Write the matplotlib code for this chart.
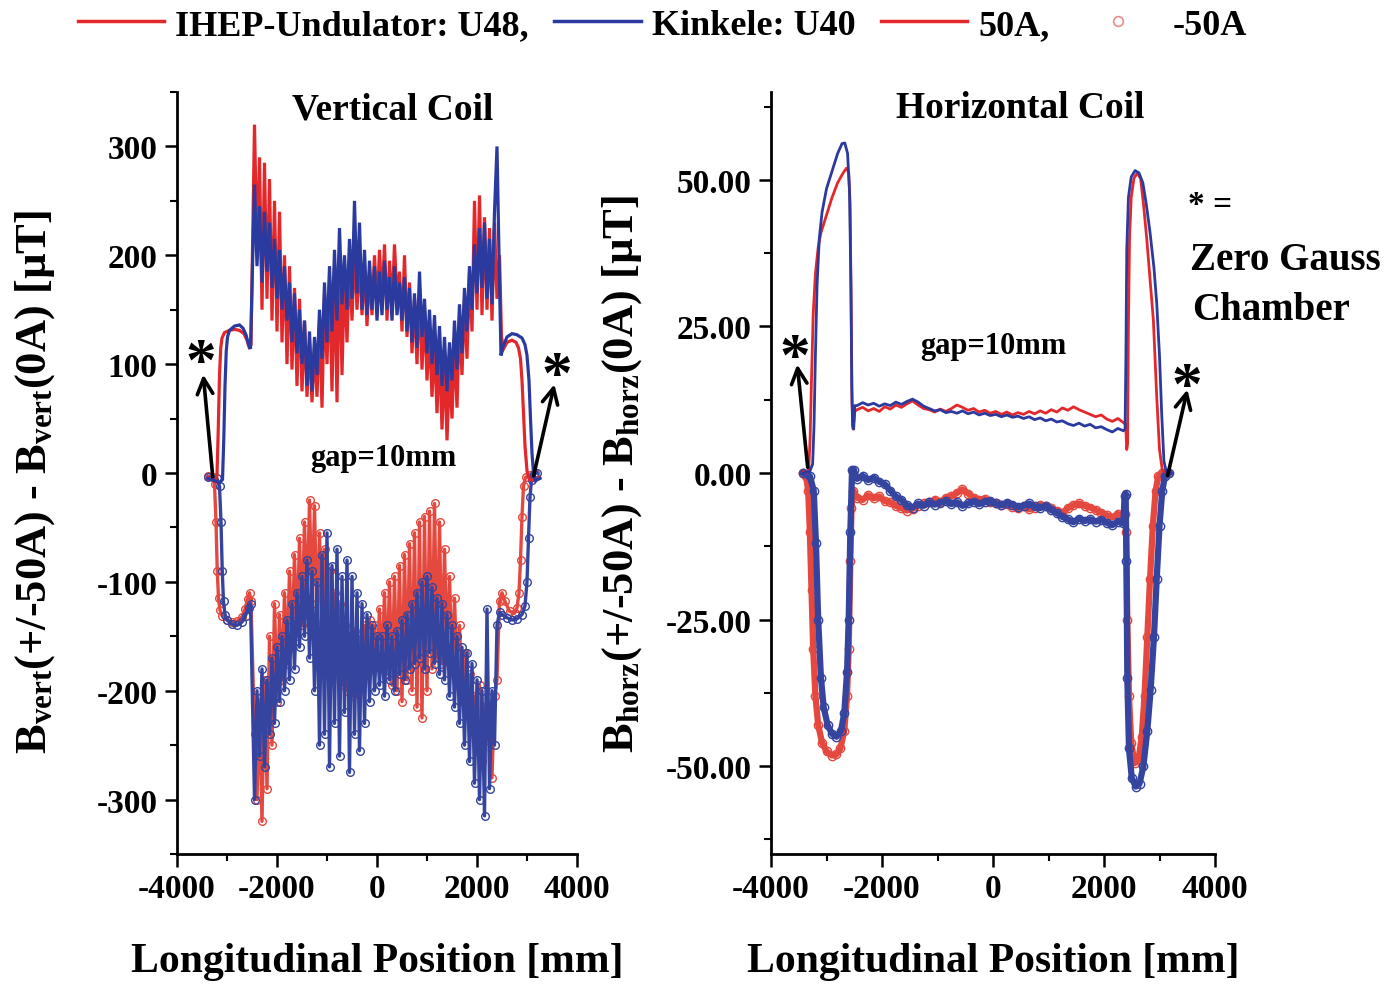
import numpy as np
import matplotlib
matplotlib.use('Agg')
import matplotlib.pyplot as plt
from matplotlib.lines import Line2D
from matplotlib.ticker import MultipleLocator, FormatStrFormatter

plt.rcParams['font.family'] = ['Liberation Serif', 'DejaVu Serif']
plt.rcParams['font.weight'] = 'bold'
plt.rcParams['axes.labelweight'] = 'bold'
plt.rcParams['axes.unicode_minus'] = False
plt.rcParams['mathtext.fontset'] = 'custom'
plt.rcParams['mathtext.rm'] = 'Liberation Serif:bold'
plt.rcParams['mathtext.it'] = 'Liberation Serif:bold'
plt.rcParams['mathtext.bf'] = 'Liberation Serif:bold'

RED = '#e3282b'
BLUE = '#2b3a9e'
RED_M = '#e4483e'
BLUE_M = '#34449f'

# ---------------- Vertical coil data ----------------
# common sampling positions of the noisy central region [mm]
V_NOISE_X = [-2450, -2400, -2350, -2300, -2250, -2200, -2150, -2100, -2050, -2000,
             -1950, -1900, -1850, -1800, -1750, -1700, -1650, -1600, -1550, -1500,
             -1450, -1400, -1350, -1300, -1250, -1200, -1150, -1100, -1050, -1000,
             -950, -900, -850, -800, -750, -700, -650, -600, -550, -500,
             -450, -400, -350, -300, -250, -200, -150, -100, -50, 0,
             50, 100, 150, 200, 250, 300, 350, 400, 450, 500,
             550, 600, 650, 700, 750, 800, 850, 900, 950, 1000,
             1050, 1100, 1150, 1200, 1250, 1300, 1350, 1400, 1450, 1500,
             1550, 1600, 1650, 1700, 1750, 1800, 1850, 1900, 1950, 2000,
             2050, 2100, 2150, 2200, 2250, 2300, 2350, 2400]

# +50A, IHEP (red)
V_UP_RED_LX = [-3380, -3300, -3230, -3200, -3175, -3150, -3125, -3100, -3050, -2950, -2850, -2750, -2660, -2600, -2560, -2520]
V_UP_RED_LY = [-4, -6, -8, -2, 40, 90, 115, 124, 129, 131, 132, 131, 128, 122, 116, 118]
V_UP_RED_N = [320, 200, 290, 150, 285, 160, 270, 140, 250, 130,
              240, 120, 200, 100, 190, 95, 170, 80, 160, 75,
              140, 70, 120, 65, 115, 70, 140, 60, 165, 100,
              180, 75, 190, 65, 200, 90, 185, 120, 195, 140,
              210, 150, 200, 145, 190, 135, 185, 145, 200, 150,
              205, 155, 210, 140, 195, 150, 210, 160, 185, 130,
              200, 125, 175, 110, 160, 100, 170, 95, 150, 85,
              130, 70, 120, 55, 115, 40, 105, 30, 95, 50,
              120, 60, 145, 90, 160, 105, 185, 130, 250, 150,
              255, 145, 235, 150, 225, 140, 230, 160]
V_UP_RED_RX = [2450, 2490, 2530, 2600, 2700, 2780, 2830, 2870, 2900, 2930, 2960, 3000, 3050, 3150, 3250]
V_UP_RED_RY = [200, 125, 114, 120, 122, 120, 115, 105, 85, 55, 25, 2, -6, -7, -4]

# +50A, Kinkele (blue)
V_UP_BLUE_LX = [-3380, -3250, -3150, -3090, -3065, -3040, -3015, -2990, -2950, -2850, -2750, -2680, -2620, -2570, -2530]
V_UP_BLUE_LY = [-5, -7, -9, -6, 30, 80, 112, 125, 131, 135, 136, 133, 127, 118, 114]
V_UP_BLUE_N = [265, 190, 245, 175, 240, 185, 230, 170, 215, 160,
               205, 150, 190, 140, 175, 120, 165, 110, 150, 100,
               140, 80, 130, 75, 125, 90, 150, 105, 175, 120,
               190, 130, 205, 140, 225, 155, 200, 150, 215, 160,
               250, 165, 230, 150, 205, 145, 195, 150, 190, 140,
               185, 145, 195, 150, 180, 140, 190, 145, 175, 140,
               180, 130, 170, 120, 165, 115, 185, 125, 160, 110,
               150, 100, 145, 90, 135, 80, 125, 75, 120, 85,
               140, 95, 155, 110, 170, 130, 190, 150, 210, 165,
               225, 170, 230, 160, 215, 155, 240, 300]
V_UP_BLUE_RX = [2450, 2480, 2520, 2600, 2700, 2800, 2900, 2960, 3000, 3040, 3070, 3100, 3130, 3170, 3260]
V_UP_BLUE_RY = [175, 108, 116, 125, 128, 127, 124, 118, 108, 85, 50, 18, 0, -7, -5]

# -50A, IHEP (red circles)
V_LO_RED_LX = [-3380, -3290, -3250, -3220, -3195, -3170, -3140, -3100, -3000, -2900, -2800, -2700, -2640, -2590, -2550, -2520]
V_LO_RED_LY = [-3, -4, -10, -45, -90, -115, -126, -131, -135, -137, -136, -132, -125, -116, -110, -118]
V_LO_RED_N = [-240, -300, -210, -320, -190, -290, -150, -250, -120, -210,
              -130, -190, -110, -175, -90, -160, -75, -150, -60, -140,
              -45, -130, -25, -120, -30, -140, -55, -155, -70, -165,
              -90, -175, -110, -185, -120, -195, -140, -200, -150, -205,
              -145, -190, -150, -195, -140, -185, -135, -180, -140, -175,
              -125, -180, -110, -185, -100, -195, -95, -200, -85, -210,
              -75, -190, -65, -200, -55, -215, -45, -225, -40, -200,
              -35, -180, -28, -170, -45, -175, -70, -165, -95, -180,
              -115, -185, -140, -200, -165, -220, -185, -235, -205, -250,
              -195, -265, -215, -245, -230, -280, -205, -190]
V_LO_RED_RX = [2450, 2500, 2560, 2650, 2750, 2800, 2840, 2870, 2900, 2930, 2970, 3050, 3150]
V_LO_RED_RY = [-118, -110, -118, -127, -129, -124, -110, -80, -40, -12, -4, -2, 0]

# -50A, Kinkele (blue circles)
V_LO_BLUE_LX = [-3380, -3200, -3150, -3120, -3095, -3070, -3040, -3000, -2900, -2800, -2700, -2630, -2570, -2530]
V_LO_BLUE_LY = [-4, -5, -12, -45, -90, -118, -130, -135, -139, -140, -137, -131, -124, -120]
V_LO_BLUE_N = [-300, -200, -260, -180, -270, -190, -240, -170, -230, -160,
               -210, -150, -200, -135, -190, -120, -180, -110, -160, -95,
               -150, -80, -170, -90, -200, -100, -250, -75, -240, -55,
               -270, -85, -230, -70, -260, -95, -220, -80, -275, -95,
               -240, -110, -255, -120, -230, -130, -210, -140, -200, -150,
               -195, -150, -205, -140, -190, -150, -200, -145, -185, -135,
               -190, -130, -180, -120, -175, -110, -170, -100, -180, -95,
               -165, -105, -175, -115, -185, -120, -190, -130, -205, -140,
               -215, -150, -230, -160, -250, -165, -265, -175, -285, -190,
               -300, -200, -315, -125, -290, -200, -250, -140]
V_LO_BLUE_RX = [2450, 2500, 2600, 2700, 2800, 2900, 2960, 3000, 3030, 3060, 3090, 3130, 3200]
V_LO_BLUE_RY = [-128, -130, -133, -135, -134, -130, -122, -100, -60, -22, -6, -1, 0]

# ---------------- Horizontal coil data ----------------
H_FLAT_X = [-2450, -2350, -2250, -2150, -2050, -1950, -1850, -1750, -1650, -1550,
            -1450, -1350, -1250, -1150, -1050, -950, -850, -750, -650, -550,
            -450, -350, -250, -150, -50, 50, 150, 250, 350, 450,
            550, 650, 750, 850, 950, 1050, 1150, 1250, 1350, 1450,
            1550, 1650, 1750, 1850, 1950, 2050, 2150, 2250, 2350]

H_UP_RED_LX = [-3420, -3360, -3320, -3295, -3270, -3240, -3200, -3150, -3100, -3000, -2900, -2800, -2700, -2640, -2600, -2575, -2555, -2540, -2520, -2490]
H_UP_RED_LY = [0.2, 0.0, 0.6, 6, 16, 27, 34, 38.5, 41, 44, 47, 49.5, 51.2, 52, 51.3, 46, 28, 12, 7.5, 10.5]
H_UP_RED_N = [10.8, 11.2, 10.6, 11.0, 10.5, 11.3, 10.9, 11.6, 11.2, 11.8,
              12.3, 11.6, 11.0, 10.8, 10.4, 10.9, 10.5, 11.0, 11.6, 11.2,
              10.7, 11.0, 10.4, 10.7, 10.2, 10.5, 10.0, 10.4, 9.9, 10.3,
              10.0, 10.5, 10.1, 10.6, 10.2, 10.8, 10.4, 11.1, 10.7, 11.3,
              10.8, 10.4, 10.0, 9.6, 9.9, 9.2, 8.8, 9.3, 8.6]
H_UP_RED_RX = [2390, 2410, 2425, 2440, 2460, 2490, 2540, 2600, 2660, 2710, 2770, 2830, 2890, 2950, 3000, 3050, 3150]
H_UP_RED_RY = [8.3, 4.0, 5.0, 25, 40, 47, 50.3, 51.2, 50.2, 46, 40, 33, 26, 13, 4, 0.5, 0.0]

H_UP_BLUE_LX = [-3420, -3300, -3250, -3225, -3200, -3170, -3130, -3080, -3000, -2900, -2800, -2720, -2670, -2620, -2585, -2560, -2545, -2530, -2510, -2490]
H_UP_BLUE_LY = [0.0, 0.3, 1.5, 8, 20, 32, 40, 44.5, 48.5, 51.5, 54.5, 56.2, 56.3, 54.5, 48, 32, 15, 8, 7.5, 11.5]
H_UP_BLUE_N = [11.5, 12.0, 11.6, 11.9, 11.4, 11.8, 11.5, 12.1, 11.7, 12.2,
               12.6, 12.1, 11.4, 11.0, 10.6, 10.8, 10.3, 10.5, 10.2, 10.6,
               10.1, 10.4, 9.9, 10.2, 9.8, 10.0, 9.6, 9.9, 9.5, 9.7,
               9.3, 9.6, 9.1, 9.4, 8.9, 9.2, 8.7, 8.9, 8.4, 8.1,
               8.5, 8.0, 8.3, 7.7, 7.9, 7.4, 7.0, 7.6, 7.2]
H_UP_BLUE_RX = [2380, 2395, 2410, 2440, 2490, 2560, 2630, 2700, 2760, 2830, 2900, 2950, 3000, 3040, 3080, 3120, 3200]
H_UP_BLUE_RY = [7.5, 20, 38, 47, 50.5, 51.6, 51.2, 49.5, 46, 41, 35, 29, 20, 10, 2, 0.3, 0.0]

H_LO_RED_LX = [-3420, -3370, -3330, -3300, -3270, -3240, -3200, -3150, -3080, -3000, -2900, -2820, -2750, -2680, -2630, -2600, -2570, -2550, -2520]
H_LO_RED_LY = [0, -0.5, -3, -10, -20, -30, -38, -43, -46, -47.5, -48.2, -48, -47, -44, -38, -30, -15, -6, -3]
H_LO_RED_N = [-4.2, -4.6, -3.8, -4.3, -4.0, -4.8, -5.0, -5.6, -6.0, -6.4,
              -6.1, -5.6, -5.2, -5.0, -4.6, -4.9, -4.3, -4.0, -3.4, -2.8,
              -3.5, -4.2, -4.6, -4.4, -4.9, -5.1, -5.5, -5.3, -5.8, -6.0,
              -5.7, -6.2, -5.9, -5.4, -5.6, -6.0, -6.4, -6.8, -6.0, -5.5,
              -5.2, -5.6, -5.9, -6.3, -6.8, -7.2, -7.6, -7.0, -7.4]
H_LO_RED_RX = [2380, 2400, 2420, 2450, 2490, 2550, 2620, 2680, 2730, 2780, 2830, 2880, 2930, 2980, 3050, 3150]
H_LO_RED_RY = [-7, -10, -25, -38, -46, -49.5, -49, -45, -38, -28, -18, -9, -3, -0.5, 0, 0]

H_LO_BLUE_LX = [-3420, -3300, -3230, -3190, -3150, -3100, -3050, -2980, -2900, -2820, -2740, -2680, -2630, -2600, -2570, -2540, -2510]
H_LO_BLUE_LY = [0, -0.5, -3, -12, -25, -35, -40, -43, -44.5, -45, -44, -41, -34, -25, -10, 0.5, 0.5]
H_LO_BLUE_N = [-1.0, -0.5, -1.2, -0.8, -1.5, -1.9, -3.0, -4.0, -4.6, -5.5,
               -5.9, -5.2, -5.6, -5.0, -5.4, -5.1, -4.8, -5.3, -5.0, -5.6,
               -5.2, -4.9, -5.3, -5.0, -4.8, -5.2, -5.5, -5.1, -5.4, -5.8,
               -5.6, -5.2, -5.7, -6.0, -5.6, -6.3, -6.8, -7.5, -7.9, -8.4,
               -7.8, -8.2, -7.9, -8.3, -8.0, -8.5, -8.9, -8.3, -8.6]
H_LO_BLUE_RX = [2370, 2390, 2405, 2420, 2450, 2500, 2570, 2640, 2710, 2780, 2840, 2900, 2950, 3000, 3050, 3100, 3180]
H_LO_BLUE_RY = [-4, -3.5, -15, -35, -47, -52, -53.5, -53, -50, -44, -37, -28, -18, -9, -3, -0.5, 0]

LEGEND_LABELS = ['IHEP-Undulator: U48,', 'Kinkele: U40', '50A,', '-50A']


def series(lx, ly, nx, ny, rx, ry):
    return np.array(lx + nx + rx, float), np.array(ly + ny + ry, float)


fig = plt.figure(figsize=(13.94, 9.87), dpi=100)
axL = fig.add_axes([177 / 1394, 132 / 987, 400 / 1394, 762 / 987])
axR = fig.add_axes([771 / 1394, 132 / 987, 444 / 1394, 762 / 987])

line_kw = dict(lw=2.3, solid_joinstyle='miter')
mk_kw = dict(lw=2.4, marker='o', ms=5.5, mfc='none', mew=1.0)
mk_kw_h = dict(lw=4.5, marker='o', ms=6, mfc='none', mew=1.0)

# Vertical coil
x, y = series(V_LO_RED_LX, V_LO_RED_LY, V_NOISE_X, V_LO_RED_N, V_LO_RED_RX, V_LO_RED_RY)
axL.plot(x, y, color=RED_M, **mk_kw)
x, y = series(V_LO_BLUE_LX, V_LO_BLUE_LY, V_NOISE_X, V_LO_BLUE_N, V_LO_BLUE_RX, V_LO_BLUE_RY)
axL.plot(x, y, color=BLUE_M, **mk_kw)
x, y = series(V_UP_RED_LX, V_UP_RED_LY, V_NOISE_X, V_UP_RED_N, V_UP_RED_RX, V_UP_RED_RY)
axL.plot(x, y, color=RED, **line_kw)
x, y = series(V_UP_BLUE_LX, V_UP_BLUE_LY, V_NOISE_X, V_UP_BLUE_N, V_UP_BLUE_RX, V_UP_BLUE_RY)
axL.plot(x, y, color=BLUE, **line_kw)

# Horizontal coil
x, y = series(H_LO_RED_LX, H_LO_RED_LY, H_FLAT_X, H_LO_RED_N, H_LO_RED_RX, H_LO_RED_RY)
axR.plot(x, y, color=RED_M, **mk_kw_h)
x, y = series(H_LO_BLUE_LX, H_LO_BLUE_LY, H_FLAT_X, H_LO_BLUE_N, H_LO_BLUE_RX, H_LO_BLUE_RY)
axR.plot(x, y, color=BLUE_M, **mk_kw_h)
x, y = series(H_UP_RED_LX, H_UP_RED_LY, H_FLAT_X, H_UP_RED_N, H_UP_RED_RX, H_UP_RED_RY)
axR.plot(x, y, color=RED, lw=2.0)
x, y = series(H_UP_BLUE_LX, H_UP_BLUE_LY, H_FLAT_X, H_UP_BLUE_N, H_UP_BLUE_RX, H_UP_BLUE_RY)
axR.plot(x, y, color=BLUE, lw=2.0)

for ax in (axL, axR):
    for s in ('top', 'right'):
        ax.spines[s].set_visible(False)
    for s in ('left', 'bottom'):
        ax.spines[s].set_linewidth(2.0)
    ax.set_xlim(-4000, 4000)
    ax.xaxis.set_major_locator(MultipleLocator(2000))
    ax.xaxis.set_minor_locator(MultipleLocator(1000))
    ax.tick_params(which='major', direction='out', length=9, width=1.8, labelsize=24, pad=5)
    ax.tick_params(which='minor', direction='out', length=5, width=1.5)
    ax.set_xlabel('Longitudinal Position [mm]', fontsize=30, fontweight='bold')
    ax.xaxis.set_label_coords(0.5, -0.115)

axL.set_ylim(-350, 350)
axL.yaxis.set_major_locator(MultipleLocator(100))
axL.yaxis.set_minor_locator(MultipleLocator(50))
axL.set_ylabel(r'B$_{\rm vert}$(+/-50A) - B$_{\rm vert}$(0A) [µT]', fontsize=32, fontweight='bold')
axL.yaxis.set_label_coords(-0.30, 0.49)

axR.set_ylim(-65, 65)
axR.yaxis.set_major_locator(MultipleLocator(25))
axR.yaxis.set_minor_locator(MultipleLocator(12.5))
axR.yaxis.set_major_formatter(FormatStrFormatter('%.2f'))
axR.set_ylabel(r'B$_{\rm horz}$(+/-50A) - B$_{\rm horz}$(0A) [µT]', fontsize=32, fontweight='bold')
axR.yaxis.set_label_coords(-0.285, 0.5)

axL.text(0.54, 0.978, 'Vertical Coil', transform=axL.transAxes, ha='center', va='center', fontsize=27)
axR.text(0.561, 0.98, 'Horizontal Coil', transform=axR.transAxes, ha='center', va='center', fontsize=27)
axL.text(0.515, 0.52, 'gap=10mm', transform=axL.transAxes, ha='center', va='center', fontsize=22)
axR.text(0.5, 0.667, 'gap=10mm', transform=axR.transAxes, ha='center', va='center', fontsize=22)

arrow = dict(arrowstyle='->', lw=2.6, color='black', mutation_scale=28)
axL.annotate('', xy=(-3480, 93), xytext=(-3280, -6), arrowprops=arrow)
axL.annotate('', xy=(3560, 84), xytext=(3120, -5), arrowprops=arrow)
axR.annotate('', xy=(-3532, 19), xytext=(-3334, 0.5), arrowprops=arrow)
axR.annotate('', xy=(3514, 14.7), xytext=(3135, -0.9), arrowprops=arrow)
axL.text(-3520, 100, '*', fontsize=44, ha='center', va='center', clip_on=False)
axL.text(3600, 88, '*', fontsize=44, ha='center', va='center', clip_on=False)
axR.text(-3568, 19.5, '*', fontsize=44, ha='center', va='center', clip_on=False)
axR.text(3496, 14.5, '*', fontsize=44, ha='center', va='center', clip_on=False)

fig.text(1188 / 1394, 1 - 205 / 987, '* =', fontsize=24, ha='left', va='center')
fig.text(1190 / 1394, 1 - 260 / 987, 'Zero Gauss', fontsize=28, ha='left', va='center')
fig.text(1192 / 1394, 1 - 310 / 987, 'Chamber', fontsize=28, ha='left', va='center')

handles = [Line2D([], [], color=RED, lw=2.5),
           Line2D([], [], color=BLUE, lw=2.5),
           Line2D([], [], color=RED, lw=2.5),
           Line2D([], [], color='#f08a8a', marker='o', ls='none', ms=7, mfc='none', mew=1.2)]
fig.legend(handles, LEGEND_LABELS, loc='upper center', bbox_to_anchor=(0.475, 1.012), ncol=4,
           frameon=False, fontsize=26, handlelength=2.4, handletextpad=0.3, columnspacing=0.7,
           borderaxespad=0.2)

fig.savefig('out.png', dpi=100)
